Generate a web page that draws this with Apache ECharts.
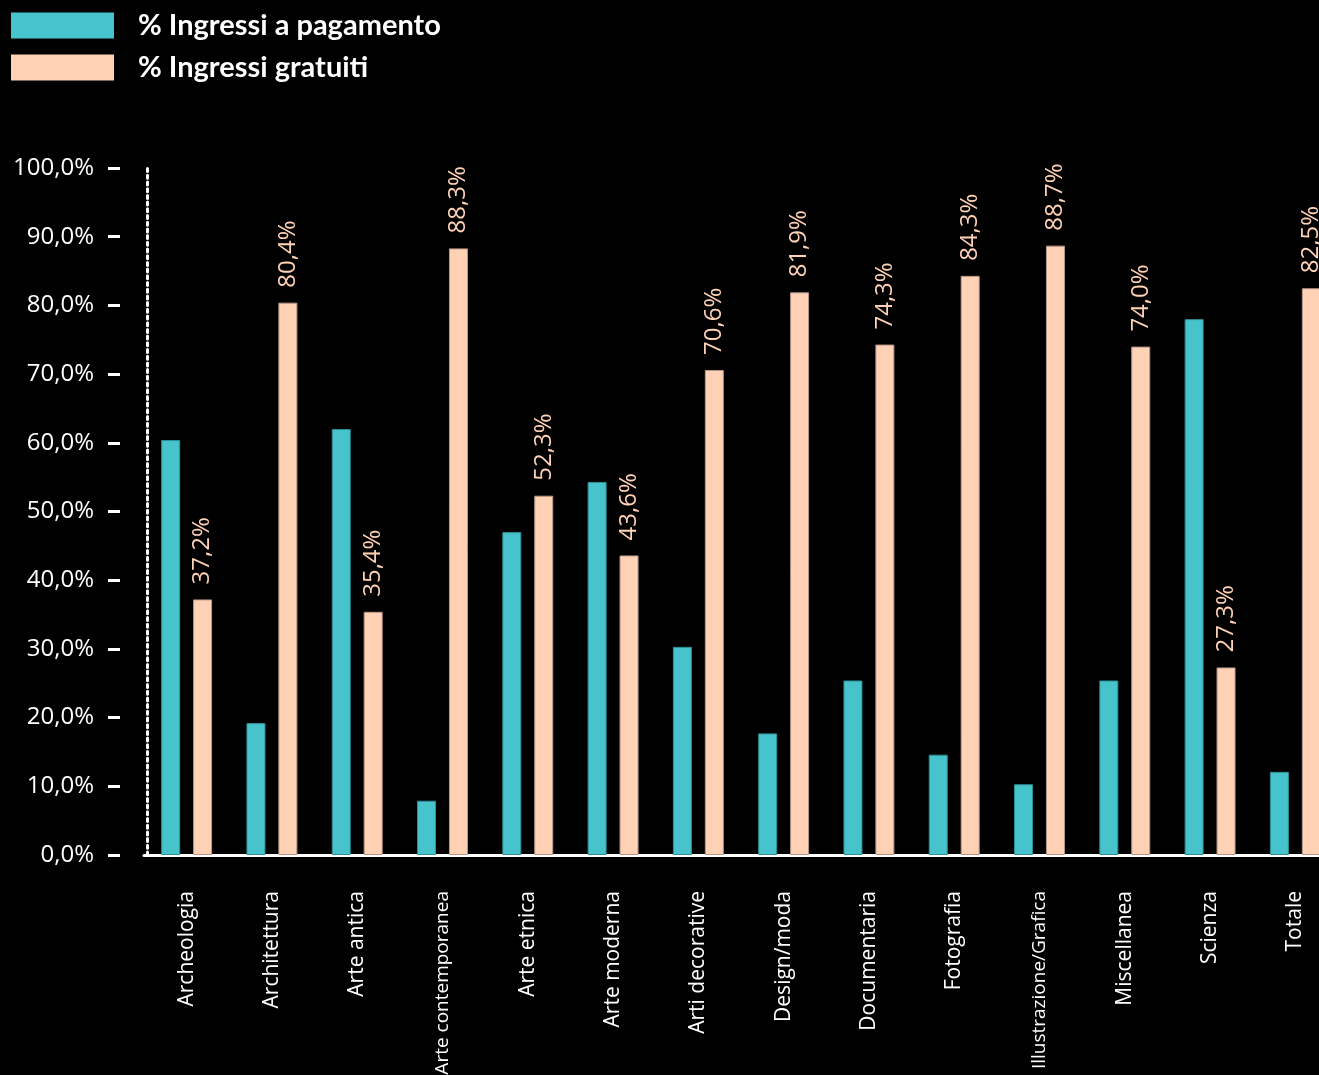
<!DOCTYPE html>
<html>
<head>
<meta charset="utf-8">
<script src="https://cdn.jsdelivr.net/npm/echarts@6/dist/echarts.min.js"></script>
<style>
  html, body { margin: 0; padding: 0; background: #000; }
  #chart { width: 1319px; height: 1075px; }
</style>
</head>
<body>
<div id="chart"></div>
<script>
// Categorie di musei
const categories = [
  'Archeologia', 'Architettura', 'Arte antica', 'Arte contemporanea',
  'Arte etnica', 'Arte moderna', 'Arti decorative', 'Design/moda',
  'Documentaria', 'Fotografia', 'Illustrazione/Grafica', 'Miscellanea',
  'Scienza', 'Totale'
];

// % Ingressi a pagamento
const pagamento = [60.4, 19.2, 62.0, 7.9, 47.0, 54.3, 30.3, 17.7, 25.4, 14.6, 10.3, 25.4, 78.0, 12.1];

// % Ingressi gratuiti
const gratuiti = [37.2, 80.4, 35.4, 88.3, 52.3, 43.6, 70.6, 81.9, 74.3, 84.3, 88.7, 74.0, 27.3, 82.5];

// Etichette della serie e scala dell'asse
const seriesNames = ['% Ingressi a pagamento', '% Ingressi gratuiti'];
const yMin = 0, yMax = 100, yStep = 10;

const TEAL = '#47C3CB';
const PEACH = '#FFD2B6';

const pct = v => v.toFixed(1).replace('.', ',') + '%';

// le etichette più lunghe vengono rimpicciolite per restare nello spazio
const categoryData = categories.map(name => (
  name.length > 17 ? { value: name, textStyle: { fontSize: 19 } } : name
));

const chart = echarts.init(document.getElementById('chart'));
chart.setOption({
  backgroundColor: '#000000',
  animation: false,
  legend: {
    orient: 'vertical',
    left: 11,
    top: 11,
    padding: 0,
    itemWidth: 103,
    itemHeight: 26,
    itemGap: 13,
    icon: 'rect',
    itemStyle: { borderWidth: 0 },
    textStyle: {
      color: '#ffffff',
      fontFamily: 'Lato',
      fontWeight: 'bold',
      fontSize: 29,
      padding: [0, 0, 0, 19]
    },
    data: seriesNames
  },
  grid: {
    left: 144,
    right: -19,
    top: 168,
    bottom: 220,
    containLabel: false,
    outerBoundsMode: 'none'
  },
  xAxis: {
    type: 'category',
    data: categoryData,
    axisLine: { show: true, onZero: false, lineStyle: { color: '#ffffff', width: 3 } },
    axisTick: { show: false },
    axisLabel: {
      interval: 0,
      rotate: 90,
      margin: 36,
      color: '#ffffff',
      fontFamily: 'Open Sans',
      fontSize: 21
    },
    splitLine: { show: false }
  },
  yAxis: [
    {
      // tacche e valori, staccati dalla linea dell'asse
      type: 'value',
      position: 'left',
      min: yMin,
      max: yMax,
      interval: yStep,
      offset: 24,
      axisLine: { show: false },
      axisTick: { show: true, length: 12, lineStyle: { color: '#ffffff', width: 3 } },
      axisLabel: {
        margin: 26,
        color: '#ffffff',
        fontFamily: 'Open Sans',
        fontSize: 24,
        formatter: pct
      },
      splitLine: { show: false }
    },
    {
      // linea punteggiata dell'asse verticale
      type: 'value',
      position: 'left',
      min: yMin,
      max: yMax,
      interval: yStep,
      offset: -3,
      axisLine: { show: true, onZero: false, lineStyle: { color: '#ffffff', width: 3, type: [3, 3.7] } },
      axisTick: { show: false },
      axisLabel: { show: false },
      splitLine: { show: false }
    }
  ],
  series: [
    {
      name: seriesNames[0],
      type: 'bar',
      yAxisIndex: 0,
      data: pagamento,
      barWidth: 19,
      barGap: '68%',
      itemStyle: { color: TEAL, borderColor: '#2F9097', borderWidth: 1 }
    },
    {
      name: seriesNames[1],
      type: 'bar',
      yAxisIndex: 0,
      data: gratuiti,
      barWidth: 19,
      barGap: '68%',
      itemStyle: { color: PEACH, borderColor: '#B8968A', borderWidth: 1 },
      label: {
        show: true,
        position: 'top',
        distance: 15,
        rotate: 90,
        align: 'left',
        verticalAlign: 'middle',
        color: PEACH,
        fontFamily: 'Open Sans',
        fontSize: 24,
        formatter: p => pct(p.value)
      }
    }
  ]
});
</script>
</body>
</html>
